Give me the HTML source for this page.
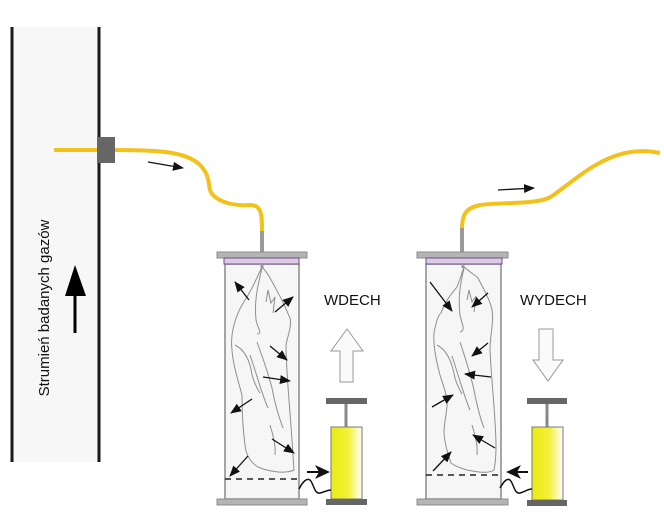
<!DOCTYPE html>
<html><head><meta charset="utf-8"><style>
html,body{margin:0;padding:0;background:#fff;}
svg{display:block;}
text{font-family:"Liberation Sans",Arial,sans-serif;}
</style></head><body>
<svg width="664" height="512" viewBox="0 0 664 512" xmlns="http://www.w3.org/2000/svg">
<defs>
<marker id="ah" markerUnits="userSpaceOnUse" markerWidth="12" markerHeight="10" refX="10" refY="4.5" orient="auto">
<path d="M0,0 L11,4.5 L0,9 z" fill="#111"/>
</marker>
<linearGradient id="yg" x1="0" y1="0" x2="1" y2="0">
<stop offset="0" stop-color="#ecea12"/>
<stop offset="0.55" stop-color="#f2f03a"/>
<stop offset="1" stop-color="#ffffff"/>
</linearGradient>
</defs>

<!-- duct -->
<rect x="12" y="27" width="87" height="435" fill="#f7f7f7"/>
<line x1="12" y1="27" x2="12" y2="462" stroke="#1a1a1a" stroke-width="3"/>
<line x1="99" y1="27" x2="99" y2="462" stroke="#1a1a1a" stroke-width="3"/>
<text x="0" y="0" font-size="15" fill="#111" text-anchor="middle" transform="translate(49,308) rotate(-90)">Strumień badanych gazów</text>
<line x1="75" y1="293" x2="75" y2="333" stroke="#000" stroke-width="3"/>
<polygon points="75,265 65,296 86,296" fill="#000"/>

<!-- probe -->
<line x1="54" y1="150" x2="100" y2="150" stroke="#f2c21b" stroke-width="4"/>
<path d="M113,150 C150,150 185,150 200,165 C212,177 207,188 212,194 C220,203 235,206 250,205 C262,205 262,215 262,232" fill="none" stroke="#f2c21b" stroke-width="4"/>
<rect x="97" y="137" width="18" height="26" fill="#666"/>
<line x1="262" y1="231" x2="262" y2="253" stroke="#9a9a9a" stroke-width="4"/>
<line x1="148" y1="162" x2="183" y2="168" stroke="#111" stroke-width="1.3" marker-end="url(#ah)"/>

<!-- second hose -->
<path d="M462,229 C462,214 466,208 480,205 C500,202 540,205 552,196 C575,180 595,160 625,153 C640,150 650,151 660,153" fill="none" stroke="#f2c21b" stroke-width="4"/>
<line x1="462" y1="228" x2="462" y2="253" stroke="#9a9a9a" stroke-width="4"/>
<line x1="498" y1="190" x2="534" y2="188" stroke="#111" stroke-width="1.3" marker-end="url(#ah)"/>

<!-- column 1 -->
<rect x="225" y="264" width="74" height="235" fill="#f6f6f6" stroke="#8a8a8a" stroke-width="1.5"/>
<rect x="217" y="252" width="90" height="6" fill="#b4b4b4" stroke="#8c8c8c" stroke-width="1"/>
<rect x="224" y="258" width="75" height="6" fill="#dccbe3" stroke="#6b4c8a" stroke-width="1"/>
<rect x="217" y="499" width="90" height="6" fill="#b4b4b4" stroke="#8c8c8c" stroke-width="1"/>
<line x1="262" y1="264" x2="262" y2="268" stroke="#999" stroke-width="3"/>
<line x1="225" y1="479" x2="297" y2="479" stroke="#222" stroke-width="1.5" stroke-dasharray="6,5"/>
<g fill="none" stroke="#8e8e8e" stroke-width="1">
<path d="M262,267 C270,275 276,290 282,300 L290,318 C292,325 288,335 286,345 C286,370 290,410 292,440 L294,470 C285,474 270,472 258,467 C250,462 246,455 245,445 C243,430 242,410 242,395 C238,380 233,365 232,350 C230,335 235,315 245,300 C252,290 258,275 262,267"/>
<path d="M262,268 C258,285 254,300 256,320 C258,330 263,333 257,334"/>
<path d="M266,302 L268,290 L271,303 L275,297 L273,313"/>
<path d="M235,345 C245,350 250,360 252,375 C255,385 258,390 260,393"/>
<path d="M257,342 C262,356 268,372 272,388 C275,405 280,420 283,428"/>
<path d="M250,355 C256,372 262,395 268,408"/>
<path d="M270,425 C273,435 276,445 275,455"/>
</g>
<g stroke="#111" stroke-width="1.3" marker-end="url(#ah)">
<line x1="249" y1="300" x2="235" y2="282"/>
<line x1="275" y1="312" x2="293" y2="297"/>
<line x1="270" y1="346" x2="287" y2="360"/>
<line x1="263" y1="377" x2="290" y2="381"/>
<line x1="252" y1="399" x2="231" y2="413"/>
<line x1="272" y1="439" x2="294" y2="453"/>
<line x1="248" y1="456" x2="230" y2="476"/>
</g>

<!-- pump 1 -->
<rect x="326" y="398" width="41" height="6" fill="#666"/>
<line x1="346" y1="404" x2="346" y2="427" stroke="#888" stroke-width="3"/>
<rect x="331" y="427" width="31" height="72" fill="url(#yg)" stroke="#777" stroke-width="1"/>
<rect x="326" y="499" width="41" height="6" fill="#666"/>
<path d="M299,489 C303,481 307,478 310,480 C314,484 314,494 320,493 C324,492 328,490 331,490" fill="none" stroke="#111" stroke-width="1.5"/>
<line x1="307" y1="472" x2="320" y2="472" stroke="#111" stroke-width="2"/>
<polygon points="330,472 315,465 319,472 315,479" fill="#111"/>
<polygon points="347,329 363,351 353,351 353,382 340,382 340,351 331,351" fill="#fafafa" stroke="#999" stroke-width="1"/>
<text x="324" y="305" font-size="15" fill="#111">WDECH</text>

<!-- column 2 -->
<rect x="426" y="264" width="75" height="235" fill="#f6f6f6" stroke="#8a8a8a" stroke-width="1.5"/>
<rect x="417" y="252" width="91" height="6" fill="#b4b4b4" stroke="#8c8c8c" stroke-width="1"/>
<rect x="426" y="258" width="76" height="6" fill="#dccbe3" stroke="#6b4c8a" stroke-width="1"/>
<rect x="417" y="499" width="91" height="6" fill="#b4b4b4" stroke="#8c8c8c" stroke-width="1"/>
<line x1="463" y1="264" x2="463" y2="268" stroke="#999" stroke-width="3"/>
<line x1="426" y1="475" x2="499" y2="475" stroke="#222" stroke-width="1.5" stroke-dasharray="6,5"/>
<g fill="none" stroke="#8e8e8e" stroke-width="1">
<path d="M464,267 C470,272 476,276 478,278 C484,290 490,300 492,310 C494,322 490,335 490,350 C492,390 496,420 496,447 C496,458 495,465 494,470 C488,474 478,472 467,470 C460,468 455,466 451,463 C448,455 445,445 444,433 C444,420 448,410 447,400 C446,392 444,388 440,375 C436,360 433,345 434,333 C436,322 438,315 441,313 C446,300 452,293 457,287 C460,280 462,272 464,267"/>
<path d="M464,268 C460,285 458,298 460,315 C462,325 466,330 460,332"/>
<path d="M467,300 L469,290 L472,302 L476,296 L474,312"/>
<path d="M437,345 C447,350 452,362 455,378 C458,388 461,392 462,394"/>
<path d="M460,342 C465,357 470,372 474,390 C477,406 481,420 484,428"/>
<path d="M452,356 C458,374 464,396 470,410"/>
<path d="M472,425 C475,435 478,445 477,455"/>
</g>
<g stroke="#111" stroke-width="1.3" marker-end="url(#ah)">
<line x1="430" y1="282" x2="452" y2="311"/>
<line x1="488" y1="293" x2="472" y2="307"/>
<line x1="488" y1="343" x2="472" y2="356"/>
<line x1="491" y1="377" x2="465" y2="374"/>
<line x1="432" y1="407" x2="453" y2="395"/>
<line x1="495" y1="448" x2="473" y2="435"/>
<line x1="433" y1="471" x2="451" y2="452"/>
</g>

<!-- pump 2 -->
<rect x="527" y="398" width="40" height="6" fill="#666"/>
<line x1="547" y1="404" x2="547" y2="427" stroke="#888" stroke-width="3"/>
<rect x="532" y="427" width="31" height="73" fill="url(#yg)" stroke="#777" stroke-width="1"/>
<rect x="527" y="500" width="40" height="6" fill="#666"/>
<path d="M500,488 C504,481 507,478 510,480 C514,484 514,494 520,493 C524,492 528,489 532,489" fill="none" stroke="#111" stroke-width="1.5"/>
<line x1="528" y1="472" x2="515" y2="472" stroke="#111" stroke-width="2"/>
<polygon points="506,472 521,465 517,472 521,479" fill="#111"/>
<polygon points="539,329 553,329 553,360 563,360 548,381 533,360 539,360" fill="#fafafa" stroke="#999" stroke-width="1"/>
<text x="520" y="305" font-size="15" fill="#111">WYDECH</text>
</svg>
</body></html>
